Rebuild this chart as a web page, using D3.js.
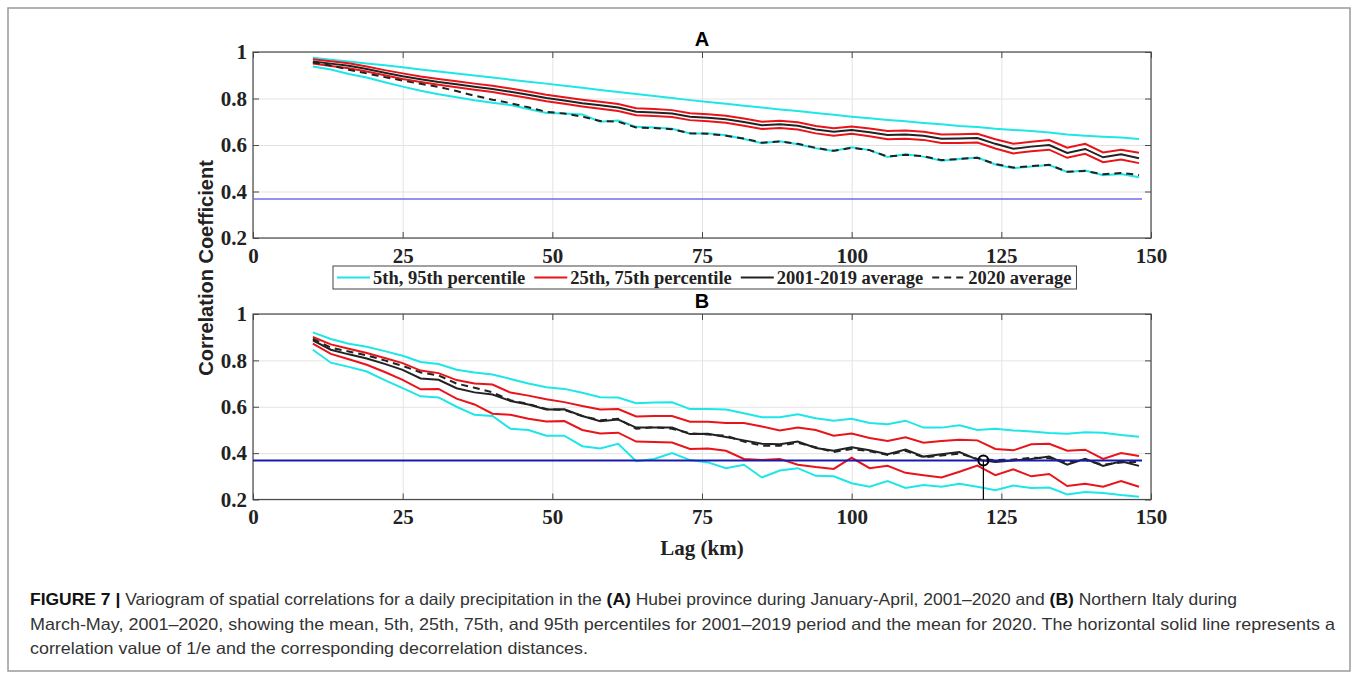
<!DOCTYPE html>
<html>
<head>
<meta charset="utf-8">
<script src="https://cdn.jsdelivr.net/npm/d3@7"></script>
<style>
  body { margin: 0; background: #fff; }
  svg { display: block; }
</style>
</head>
<body>
<svg id="chart" width="1357" height="679"></svg>
<script>
// lag distances (km) shared by every curve
const lags = [10,13,16,19,22,25,28,31,34,37,40,43,46,49,52,55,58,61,64,67,70,73,76,79,82,85,88,91,94,97,100,103,106,109,112,115,118,121,124,127,130,133,136,139,142,145,148];

// panel A - Hubei
const hubeiP95 = [.975,.967,.959,.951,.943,.934,.925,.916,.908,.899,.890,.881,.872,.864,.855,.846,.837,.828,.819,.811,.802,.793,.785,.777,.769,.761,.753,.746,.738,.730,.722,.715,.708,.702,.695,.689,.682,.677,.670,.665,.660,.654,.645,.640,.636,.632,.626];
const hubeiP75 = [.969,.960,.952,.938,.922,.908,.895,.884,.874,.864,.855,.843,.830,.816,.805,.795,.786,.776,.758,.755,.750,.737,.732,.726,.714,.700,.704,.698,.682,.672,.680,.671,.660,.662,.657,.645,.646,.648,.625,.605,.614,.621,.588,.605,.568,.580,.567];
const hubeiMean = [.959,.950,.941,.927,.911,.896,.883,.871,.861,.851,.841,.829,.816,.802,.791,.780,.771,.761,.743,.740,.735,.722,.717,.711,.699,.685,.689,.683,.667,.657,.665,.655,.643,.645,.640,.627,.628,.630,.605,.584,.593,.600,.566,.583,.547,.560,.543];
const hubeiP25 = [.950,.940,.930,.916,.900,.884,.871,.859,.848,.838,.828,.815,.802,.788,.777,.766,.756,.746,.728,.725,.720,.707,.702,.696,.683,.669,.673,.667,.650,.640,.648,.638,.625,.627,.622,.609,.609,.611,.585,.564,.573,.580,.545,.562,.526,.538,.522];
const hubeiP5 = [.938,.925,.905,.890,.870,.851,.833,.818,.805,.792,.782,.772,.755,.738,.735,.731,.700,.705,.678,.675,.670,.650,.650,.642,.626,.608,.616,.603,.586,.574,.590,.578,.548,.560,.550,.532,.540,.546,.516,.500,.508,.514,.484,.490,.470,.475,.461];
const hubei2020 = [.955,.942,.924,.908,.892,.877,.863,.850,.832,.812,.795,.780,.762,.743,.735,.722,.703,.700,.675,.673,.668,.651,.648,.640,.628,.610,.615,.605,.588,.575,.588,.578,.550,.558,.552,.535,.540,.545,.518,.503,.509,.515,.485,.488,.474,.480,.471];

// panel B - Northern Italy
const italyP95 = [.921,.892,.872,.859,.840,.820,.793,.784,.760,.748,.739,.720,.700,.684,.677,.660,.641,.640,.615,.618,.619,.590,.590,.588,.572,.555,.555,.568,.550,.540,.548,.530,.525,.540,.510,.510,.520,.500,.505,.498,.493,.487,.484,.490,.488,.478,.471];
const italyP75 = [.901,.869,.850,.832,.810,.788,.756,.745,.715,.700,.696,.661,.648,.632,.620,.603,.588,.590,.558,.560,.560,.535,.535,.530,.530,.515,.498,.510,.500,.475,.485,.465,.452,.468,.445,.452,.458,.455,.418,.412,.438,.440,.410,.415,.375,.400,.388];
const italyMean = [.886,.846,.826,.808,.785,.759,.722,.716,.680,.662,.653,.625,.610,.588,.589,.560,.538,.545,.510,.511,.510,.482,.484,.470,.455,.440,.438,.450,.422,.410,.425,.412,.395,.415,.385,.395,.405,.372,.362,.368,.375,.385,.350,.375,.345,.365,.345];
const italyP25 = [.872,.828,.805,.781,.750,.716,.675,.677,.635,.610,.570,.565,.548,.536,.538,.500,.485,.488,.450,.448,.446,.418,.420,.410,.375,.370,.375,.350,.340,.332,.380,.335,.345,.315,.305,.295,.320,.346,.305,.330,.300,.310,.258,.268,.255,.280,.255];
const italyP5 = [.846,.790,.772,.752,.715,.680,.645,.640,.600,.565,.560,.505,.500,.475,.475,.430,.420,.440,.365,.375,.400,.370,.360,.335,.350,.295,.325,.335,.302,.300,.270,.255,.280,.250,.262,.255,.268,.255,.240,.260,.250,.252,.222,.232,.228,.219,.212];
const italy2020 = [.893,.855,.838,.822,.800,.776,.748,.735,.700,.682,.662,.628,.612,.590,.586,.560,.542,.548,.505,.512,.505,.485,.480,.475,.450,.432,.432,.445,.425,.405,.418,.408,.392,.410,.382,.390,.398,.375,.370,.372,.380,.378,.362,.370,.350,.360,.362];

const oneOverE = 0.3679;
const decorrItaly = 122;   // lag where the Italy mean crosses 1/e
const xTicks = [0, 25, 50, 75, 100, 125, 150];
const yTicks = [0.2, 0.4, 0.6, 0.8, 1];
const legendItems = ['5th, 95th percentile', '25th, 75th percentile', '2001-2019 average', '2020 average'];

const svg = d3.select('#chart');
const serif = '"Liberation Serif", "Times New Roman", serif';
const sans = '"Liberation Sans", Arial, sans-serif';

// outer figure border
svg.append('rect')
  .attr('x', 8).attr('y', 8).attr('width', 1342).attr('height', 663)
  .attr('fill', 'none').attr('stroke', '#9a9a9a').attr('stroke-width', 1.5);

const x = d3.scaleLinear().domain([0, 150]).range([253, 1151]);

function panel(top, bottom, title, series, blueColor, blueWidth, marker) {
  const y = d3.scaleLinear().domain([0.2, 1]).range([bottom, top]);
  const g = svg.append('g');
  const w = x.range()[1] - x.range()[0];
  const h = bottom - top;

  // grid
  g.append('g').attr('transform', `translate(0,${bottom})`)
    .call(d3.axisBottom(x).tickValues(xTicks).tickSize(-h).tickFormat(''))
    .call(a => a.select('.domain').remove())
    .selectAll('line').attr('stroke', '#e3e3e3');
  g.append('g').attr('transform', `translate(${x(0)},0)`)
    .call(d3.axisLeft(y).tickValues(yTicks).tickSize(-w).tickFormat(''))
    .call(a => a.select('.domain').remove())
    .selectAll('line').attr('stroke', '#e3e3e3');

  // axes with inward ticks
  const axes = [
    g.append('g').attr('transform', `translate(0,${bottom})`)
      .call(d3.axisBottom(x).tickValues(xTicks).tickSize(-6).tickPadding(10).tickFormat(d3.format('d'))),
    g.append('g').attr('transform', `translate(0,${top})`)
      .call(d3.axisTop(x).tickValues(xTicks).tickSize(-6).tickFormat('')),
    g.append('g').attr('transform', `translate(${x(0)},0)`)
      .call(d3.axisLeft(y).tickValues(yTicks).tickSize(-6).tickPadding(6).tickFormat(d => d === 1 ? '1' : d3.format('.1f')(d))),
    g.append('g').attr('transform', `translate(${x(150)},0)`)
      .call(d3.axisRight(y).tickValues(yTicks).tickSize(-6).tickFormat(''))
  ];
  axes.forEach(a => {
    a.select('.domain').remove();
    a.selectAll('line').attr('stroke', '#4a4a4a');
    a.selectAll('text').attr('font-family', serif).attr('font-weight', 'bold')
      .attr('font-size', 21).attr('fill', '#222');
  });
  g.append('rect')
    .attr('x', x(0)).attr('y', top).attr('width', w).attr('height', h)
    .attr('fill', 'none').attr('stroke', '#4a4a4a').attr('stroke-width', 1.2);

  const line = d3.line().x((d, i) => x(lags[i])).y(d => y(d));
  series.forEach(s => {
    g.append('path').datum(s.values)
      .attr('d', line)
      .attr('fill', 'none')
      .attr('stroke', s.color)
      .attr('stroke-width', 2)
      .attr('stroke-dasharray', s.dash || null);
  });

  // 1/e line
  g.append('line')
    .attr('x1', x(0)).attr('x2', x(148.5))
    .attr('y1', y(oneOverE)).attr('y2', y(oneOverE))
    .attr('stroke', blueColor).attr('stroke-width', blueWidth);

  if (marker) {
    g.append('line')
      .attr('x1', x(marker)).attr('x2', x(marker))
      .attr('y1', y(oneOverE)).attr('y2', bottom)
      .attr('stroke', '#000').attr('stroke-width', 1.2);
    g.append('circle')
      .attr('cx', x(marker)).attr('cy', y(oneOverE)).attr('r', 5)
      .attr('fill', 'none').attr('stroke', '#000').attr('stroke-width', 2);
  }

  svg.append('text')
    .attr('x', x(75)).attr('y', top - 6)
    .attr('text-anchor', 'middle')
    .attr('font-family', sans).attr('font-weight', 'bold').attr('font-size', 20)
    .text(title);
}

panel(52, 238, 'A', [
  {values: hubeiP95, color: '#1ee6e6'},
  {values: hubeiP5, color: '#1ee6e6'},
  {values: hubeiP75, color: '#e8141a'},
  {values: hubeiP25, color: '#e8141a'},
  {values: hubeiMean, color: '#222'},
  {values: hubei2020, color: '#222', dash: '7,5'}
], '#6e6ef0', 1.5, null);

panel(314, 499.5, 'B', [
  {values: italyP95, color: '#1ee6e6'},
  {values: italyP5, color: '#1ee6e6'},
  {values: italyP75, color: '#e8141a'},
  {values: italyP25, color: '#e8141a'},
  {values: italyMean, color: '#222'},
  {values: italy2020, color: '#222', dash: '7,5'}
], '#1a1aa8', 2, decorrItaly);

// legend
const legendStyles = [
  {color: '#1ee6e6'}, {color: '#e8141a'}, {color: '#222'}, {color: '#222', dash: '7,5'}
];
const lg = svg.append('g');
const box = lg.append('rect')
  .attr('y', 266).attr('height', 23)
  .attr('fill', '#fff').attr('stroke', '#444').attr('stroke-width', 1);
let cx = 337;
legendItems.forEach((label, i) => {
  lg.append('line')
    .attr('x1', cx).attr('x2', cx + 33).attr('y1', 277.5).attr('y2', 277.5)
    .attr('stroke', legendStyles[i].color).attr('stroke-width', 2)
    .attr('stroke-dasharray', legendStyles[i].dash || null);
  const t = lg.append('text')
    .attr('x', cx + 36).attr('y', 284)
    .attr('font-family', serif).attr('font-weight', 'bold').attr('font-size', 18.5)
    .attr('fill', '#222')
    .text(label);
  cx += 36 + t.node().getComputedTextLength() + 9;
});
box.attr('x', 333).attr('width', cx - 333 - 4);

// axis titles
svg.append('text')
  .attr('transform', 'translate(213,268) rotate(-90)')
  .attr('text-anchor', 'middle')
  .attr('font-family', sans).attr('font-weight', 'bold').attr('font-size', 20)
  .attr('fill', '#222')
  .text('Correlation Coefficient');
svg.append('text')
  .attr('x', x(75)).attr('y', 555)
  .attr('text-anchor', 'middle')
  .attr('font-family', serif).attr('font-weight', 'bold').attr('font-size', 21)
  .attr('fill', '#222')
  .text('Lag (km)');

// caption
const cap = svg.append('g').attr('font-family', sans).attr('font-size', 16.5).attr('fill', '#333');
const l1 = cap.append('text').attr('x', 30).attr('y', 605)
  .attr('textLength', 1207).attr('lengthAdjust', 'spacingAndGlyphs');
[['FIGURE 7 |', true], [' Variogram of spatial correlations for a daily precipitation in the ', false],
 ['(A)', true], [' Hubei province during January-April, 2001–2020 and ', false],
 ['(B)', true], [' Northern Italy during', false]].forEach(([t, b]) => {
  l1.append('tspan').attr('font-weight', b ? 'bold' : null).attr('fill', b ? '#111' : null).text(t);
});
cap.append('text').attr('x', 30).attr('y', 630)
  .attr('textLength', 1305).attr('lengthAdjust', 'spacingAndGlyphs')
  .text('March-May, 2001–2020, showing the mean, 5th, 25th, 75th, and 95th percentiles for 2001–2019 period and the mean for 2020. The horizontal solid line represents a');
cap.append('text').attr('x', 30).attr('y', 654)
  .attr('textLength', 558).attr('lengthAdjust', 'spacingAndGlyphs')
  .text('correlation value of 1/e and the corresponding decorrelation distances.');
</script>
</body>
</html>
